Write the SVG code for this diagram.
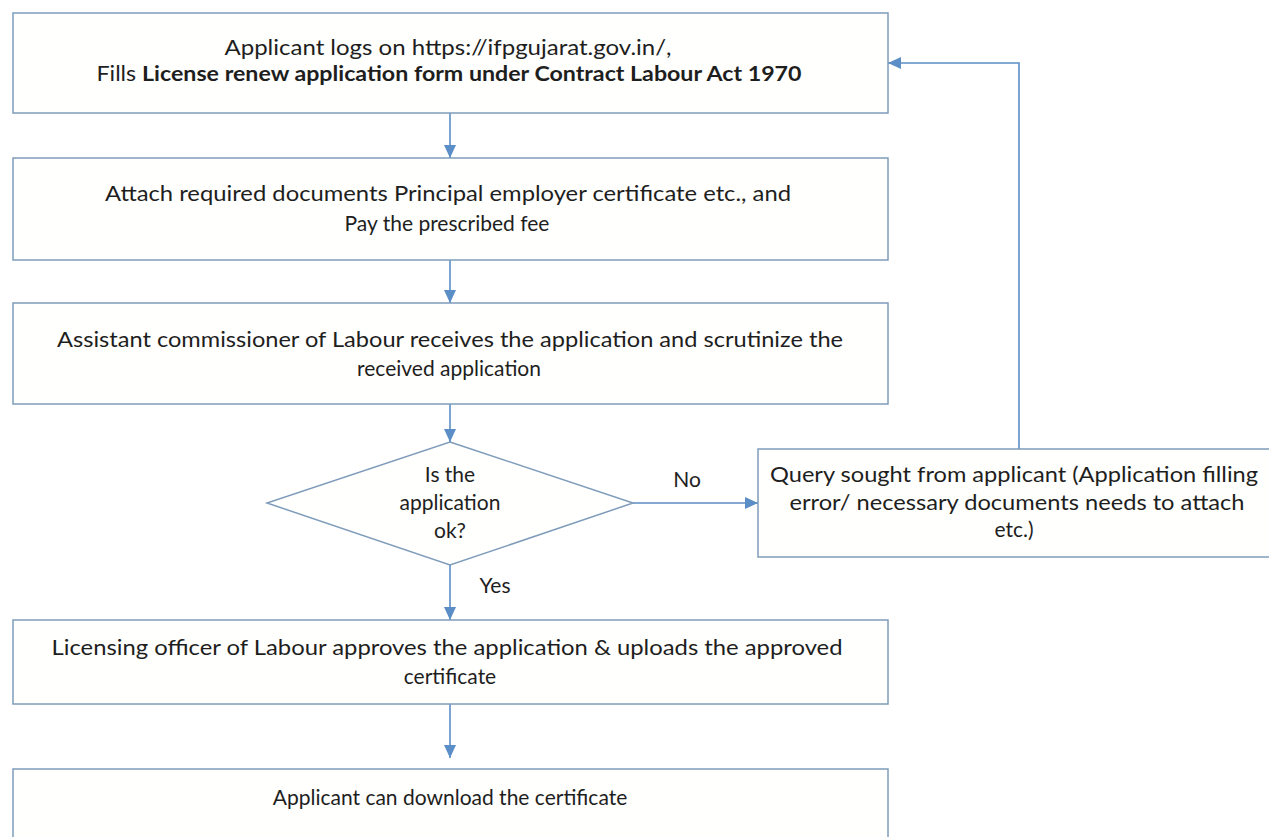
<svg xmlns="http://www.w3.org/2000/svg" width="1269" height="837" viewBox="0 0 1269 837">
<style>
.box{fill:#fffffd;stroke:#7f9cbb;stroke-width:1.5}
.t{font-family:Lato,"Liberation Sans",sans-serif;font-size:21px;fill:#1e1e1e;text-anchor:middle}
.b{font-weight:bold}
.c{fill:none;stroke:#5b8ec6;stroke-width:1.6}
</style>
<defs>
<marker id="ah" markerUnits="userSpaceOnUse" markerWidth="14" markerHeight="12" refX="13" refY="6" orient="auto">
<path d="M0,0 L13,6 L0,12 Z" fill="#5b8ec6"/>
</marker>
</defs>
<rect width="1269" height="837" fill="#ffffff"/>
<g id="connectors">
<line class="c" x1="450" y1="113" x2="450" y2="158" marker-end="url(#ah)"/>
<line class="c" x1="450" y1="260" x2="450" y2="303" marker-end="url(#ah)"/>
<line class="c" x1="450" y1="404" x2="450" y2="442" marker-end="url(#ah)"/>
<line class="c" x1="450" y1="565" x2="450" y2="620" marker-end="url(#ah)"/>
<line class="c" x1="450" y1="704" x2="450" y2="758" marker-end="url(#ah)"/>
<line class="c" x1="633" y1="503" x2="758" y2="503" marker-end="url(#ah)"/>
<polyline class="c" points="1019,449 1019,63 888,63" marker-end="url(#ah)"/>
<text class="t" x="687" y="487">No</text>
<text class="t" x="495" y="593">Yes</text>
</g>
<g id="n1">
<rect class="box" x="13" y="13" width="875" height="100"/>
<text class="t" x="448" y="55" textLength="447" lengthAdjust="spacingAndGlyphs">Applicant logs on https://ifpgujarat.gov.in/,</text>
<text class="t" x="449" y="81" textLength="705" lengthAdjust="spacingAndGlyphs">Fills <tspan class="b">License renew application form under Contract  Labour Act 1970</tspan></text>
</g>
<g id="n2">
<rect class="box" x="13" y="158" width="875" height="102"/>
<text class="t" x="448" y="201" textLength="686" lengthAdjust="spacingAndGlyphs">Attach required documents Principal employer certificate etc., and</text>
<text class="t" x="447" y="231">Pay the prescribed fee</text>
</g>
<g id="n3">
<rect class="box" x="13" y="303" width="875" height="101"/>
<text class="t" x="450" y="347" textLength="786" lengthAdjust="spacingAndGlyphs">Assistant commissioner of Labour receives the application and scrutinize the</text>
<text class="t" x="449" y="376">received application</text>
</g>
<g id="n4">
<polygon class="box" points="450,442 633,503 450,565 267,503"/>
<text class="t" x="450" y="482">Is the</text>
<text class="t" x="450" y="510">application</text>
<text class="t" x="450" y="538">ok?</text>
</g>
<g id="n5">
<rect class="box" x="758" y="449" width="520" height="108"/>
<text class="t" x="1014" y="482" textLength="488" lengthAdjust="spacingAndGlyphs">Query sought from applicant (Application filling</text>
<text class="t" x="1017" y="510" textLength="455" lengthAdjust="spacingAndGlyphs">error/ necessary documents needs to attach</text>
<text class="t" x="1014" y="537">etc.)</text>
</g>
<g id="n6">
<rect class="box" x="13" y="620" width="875" height="84"/>
<text class="t" x="447" y="655" textLength="791" lengthAdjust="spacingAndGlyphs">Licensing  officer of Labour approves the application &amp; uploads the approved</text>
<text class="t" x="450" y="684">certificate</text>
</g>
<g id="n7">
<rect class="box" x="13" y="769" width="875" height="90"/>
<text class="t" x="450" y="805">Applicant can download the certificate</text>
</g>
</svg>
